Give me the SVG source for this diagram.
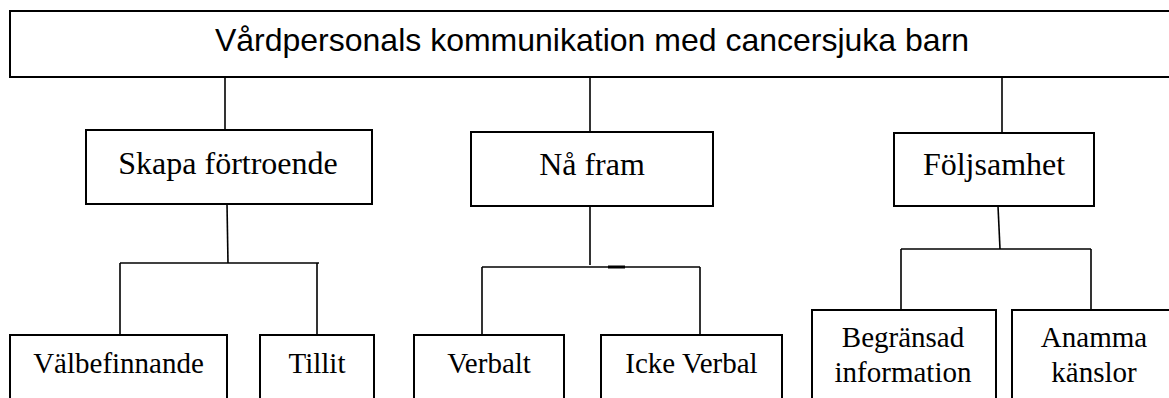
<svg xmlns="http://www.w3.org/2000/svg" width="1169" height="398" viewBox="0 0 1169 398">
<style>
rect{fill:#fff;stroke:#000;stroke-width:2}
.c line{stroke:#000;stroke-width:1.6;fill:none}
.t{font-family:"Liberation Sans",Arial,sans-serif;font-size:32px;fill:#000;text-anchor:middle}
.s{font-family:"Liberation Serif","Times New Roman",serif;font-size:32px;fill:#000;text-anchor:middle}
.b{font-family:"Liberation Serif","Times New Roman",serif;font-size:29px;fill:#000;text-anchor:middle}
</style>
<rect x="0" y="0" width="1169" height="398" fill="#fff" stroke="none" style="stroke:none"/>
<g class="c" id="connectors">
<line x1="225" y1="78" x2="225" y2="130"/>
<line x1="590" y1="78" x2="590" y2="132"/>
<line x1="1002" y1="78" x2="1002" y2="133"/>
<line x1="227" y1="204" x2="228" y2="263"/>
<line x1="120" y1="263" x2="319" y2="263"/>
<line x1="120" y1="263" x2="120" y2="335"/>
<line x1="317" y1="263" x2="317" y2="335"/>
<line x1="590" y1="206" x2="590" y2="265"/>
<line x1="482" y1="267" x2="700" y2="267"/>
<line x1="608" y1="267" x2="625" y2="267" style="stroke-width:3"/>
<line x1="482" y1="267" x2="482" y2="335"/>
<line x1="700" y1="267" x2="700" y2="335"/>
<line x1="998" y1="206" x2="1000" y2="249"/>
<line x1="901" y1="249" x2="1091" y2="249"/>
<line x1="901" y1="249" x2="901" y2="310"/>
<line x1="1091" y1="249" x2="1091" y2="310"/>
</g>
<g id="root">
<rect x="10" y="11" width="1170" height="66"/>
<text class="t" x="592" y="51">Vårdpersonals kommunikation med cancersjuka barn</text>
</g>
<g id="skapa">
<rect x="86" y="130" width="286" height="74"/>
<text class="s" x="228" y="174">Skapa förtroende</text>
</g>
<g id="nafram">
<rect x="471" y="132" width="242" height="74"/>
<text class="s" x="592" y="175">Nå fram</text>
</g>
<g id="foljsamhet">
<rect x="894" y="133" width="200" height="73"/>
<text class="s" x="994" y="175">Följsamhet</text>
</g>
<g id="valbefinnande">
<rect x="10" y="335" width="217" height="80"/>
<text class="b" x="118.5" y="373">Välbefinnande</text>
</g>
<g id="tillit">
<rect x="260" y="335" width="114" height="80"/>
<text class="b" x="317" y="373">Tillit</text>
</g>
<g id="verbalt">
<rect x="414" y="335" width="150" height="80"/>
<text class="b" x="489" y="373">Verbalt</text>
</g>
<g id="ickeverbal">
<rect x="601" y="335" width="181" height="80"/>
<text class="b" x="691.5" y="373">Icke Verbal</text>
</g>
<g id="begransad">
<rect x="812" y="310" width="184" height="100"/>
<text class="b" x="903" y="347">Begränsad</text>
<text class="b" x="903" y="382">information</text>
</g>
<g id="anamma">
<rect x="1012" y="310" width="170" height="100"/>
<text class="b" x="1094" y="347">Anamma</text>
<text class="b" x="1094" y="382">känslor</text>
</g>
</svg>
